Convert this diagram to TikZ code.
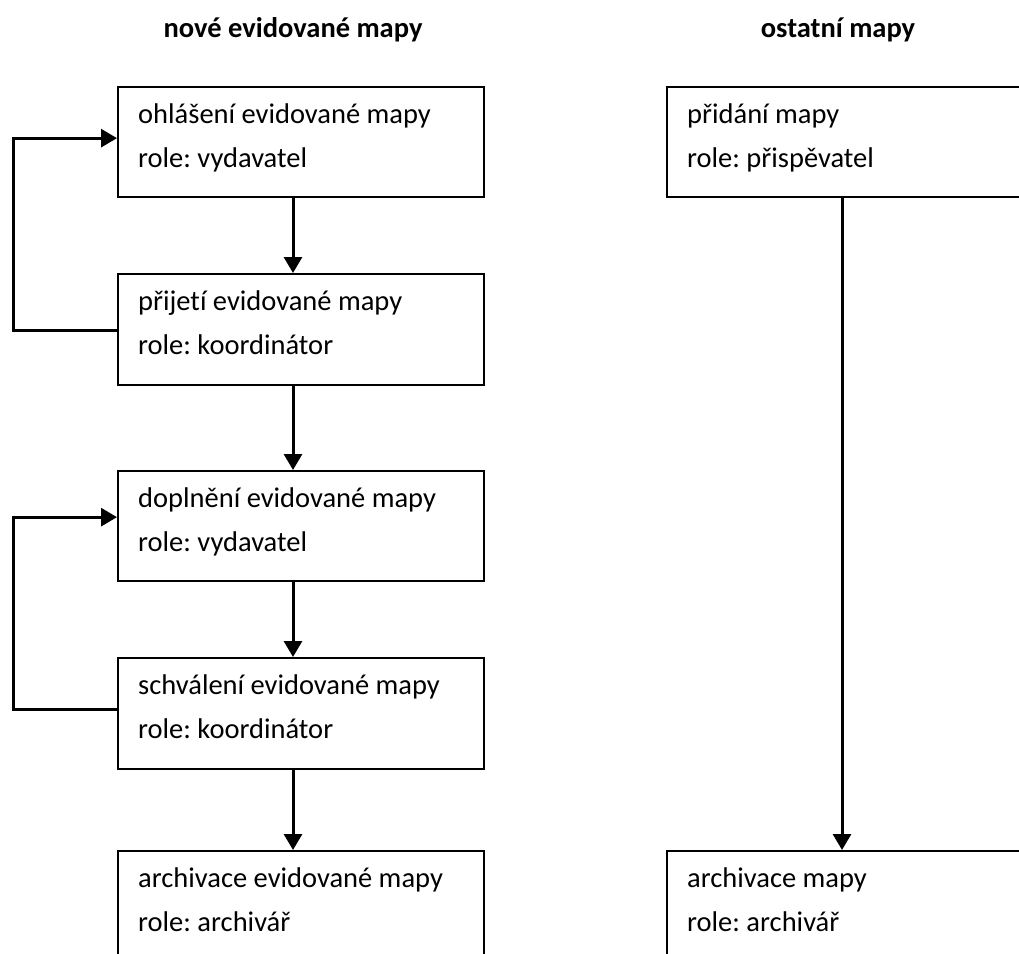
\documentclass[tikz,border=0pt]{standalone}
\usepackage{fontspec}
\setmainfont{Carlito}[Ligatures={NoCommon,NoRare,NoContextual}]
\frenchspacing
\usetikzlibrary{arrows.meta}
\begin{document}
\begin{tikzpicture}[x=1pt,y=-1pt,
  box/.style={draw, line width=2.3pt, rectangle, inner sep=0pt, anchor=north west},
  txt/.style={inner sep=0pt, anchor=base west, font=\fontsize{28.5}{34}\selectfont},
  head/.style={inner sep=0pt, anchor=base, font=\fontsize{28.5}{34}\selectfont\bfseries},
  conn/.style={line width=3pt, -{Triangle[length=16pt,width=18pt]}}]
\useasboundingbox (0,0) rectangle (1019,953);
\clip (0,0) rectangle (1019,953);
% headers
\node[head] (h1) at (293,37) {nové evidované mapy};
\node[head] (h2) at (838,37) {ostatní mapy};
% left column boxes
\node[box, minimum width=366pt, minimum height=110pt] (b1) at (117,86) {};
\node[box, minimum width=366pt, minimum height=111pt] (b2) at (117,273) {};
\node[box, minimum width=366pt, minimum height=110pt] (b3) at (117,470) {};
\node[box, minimum width=366pt, minimum height=111pt] (b4) at (117,657) {};
\node[box, minimum width=366pt, minimum height=130pt] (b5) at (117,850) {};
% right column boxes
\node[box, minimum width=400pt, minimum height=110pt] (r1) at (666,86) {};
\node[box, minimum width=400pt, minimum height=130pt] (r2) at (666,850) {};
% texts
\node[txt] (b1a) at (138,123) {ohlášení evidované mapy};
\node[txt] (b1b) at (138,167) {role: vydavatel};
\node[txt] (b2a) at (138,310) {přijetí evidované mapy};
\node[txt] (b2b) at (138,354) {role: koordinátor};
\node[txt] (b3a) at (138,507) {doplnění evidované mapy};
\node[txt] (b3b) at (138,551) {role: vydavatel};
\node[txt] (b4a) at (138,694) {schválení evidované mapy};
\node[txt] (b4b) at (138,738) {role: koordinátor};
\node[txt] (b5a) at (138,887) {archivace evidované mapy};
\node[txt] (b5b) at (138,931) {role: archivář};
\node[txt] (r1a) at (687,123) {přidání mapy};
\node[txt] (r1b) at (687,167) {role: přispěvatel};
\node[txt] (r2a) at (687,887) {archivace mapy};
\node[txt] (r2b) at (687,931) {role: archivář};
% connectors
\coordinate (colL) at (293,0);
\coordinate (colR) at (842,0);
\draw[conn] (b1.south -| colL) -- (b2.north -| colL);
\draw[conn] (b2.south -| colL) -- (b3.north -| colL);
\draw[conn] (b3.south -| colL) -- (b4.north -| colL);
\draw[conn] (b4.south -| colL) -- (b5.north -| colL);
\draw[conn] (r1.south -| colR) -- (r2.north -| colR);
% loops
\coordinate (l1) at (13,330);
\coordinate (l2) at (13,709);
\draw[conn] (b2.west |- l1) -- (l1) |- ([yshift=4pt]b1.west);
\draw[conn] (b4.west |- l2) -- (l2) |- ([yshift=9pt]b3.west);
\end{tikzpicture}
\end{document}
